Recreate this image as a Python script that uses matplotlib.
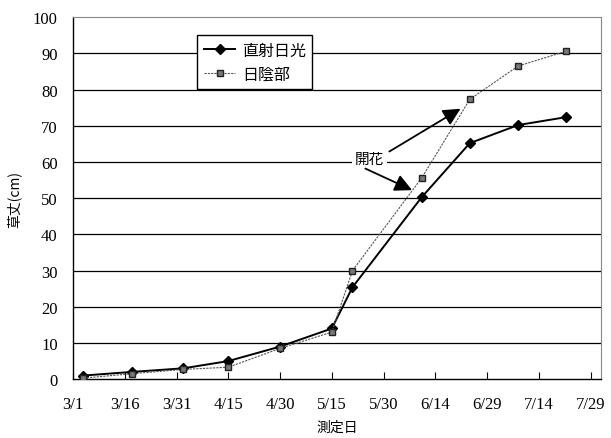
import matplotlib.pyplot as plt
import matplotlib.dates as mdates
import pandas as pd

plt.rcParams['font.family'] = ['Liberation Serif', 'Noto Sans CJK JP']

# measurement dates and plant height (cm)
dates = ['2003-03-04', '2003-03-18', '2003-04-02', '2003-04-15', '2003-04-30', '2003-05-15',
         '2003-05-21', '2003-06-10', '2003-06-24', '2003-07-08', '2003-07-22']
sun = [1.0, 2.0, 3.0, 5.0, 9.0, 14.0, 25.4, 50.2, 65.2, 70.2, 72.4]
shade = [0.3, 1.5, 2.7, 3.3, 8.5, 13.0, 30.0, 55.5, 77.3, 86.5, 90.6]
tick_dates = ['2003-03-01', '2003-03-16', '2003-03-31', '2003-04-15', '2003-04-30', '2003-05-15',
              '2003-05-30', '2003-06-14', '2003-06-29', '2003-07-14', '2003-07-29']

x = pd.to_datetime(dates)
ticks = pd.to_datetime(tick_dates)

fig = plt.figure(figsize=(6.11, 4.39), dpi=100)
ax = fig.add_axes([0.1195, 0.134, 0.864, 0.8246])

for v in range(10, 100, 10):
    ax.axhline(v, color='black', lw=0.9, zorder=0)

ax.plot(x, sun, color='black', lw=1.4, marker='D', ms=5, label='直射日光', zorder=3)
ax.plot(x, shade, color='#555555', lw=0.8, ls=(0, (2, 1)), marker='s', ms=4.5,
        mfc='#777777', mec='#222222', label='日陰部', zorder=3)

# flowering annotation
jp = ['Noto Sans CJK JP']
t = ax.text(pd.Timestamp('2003-05-26'), 60.8, '開花', ha='center', va='center', fontsize=10.5,
            family=jp, bbox=dict(facecolor='white', edgecolor='none', pad=2), zorder=4)
ax.annotate('', xy=(pd.Timestamp('2003-06-22'), 75.1), xytext=(pd.Timestamp('2003-05-31'), 62.5),
            arrowprops=dict(arrowstyle='-|>', color='black', lw=1.3, mutation_scale=26), zorder=4)
ax.annotate('', xy=(pd.Timestamp('2003-06-08'), 51.9), xytext=(pd.Timestamp('2003-05-24'), 58.5),
            arrowprops=dict(arrowstyle='-|>', color='black', lw=1.3, mutation_scale=26), zorder=4)

ax.set_xlim(pd.Timestamp('2003-03-01'), pd.Timestamp('2003-08-01'))
ax.set_ylim(0, 100)
ax.set_xticks(ticks)
ax.xaxis.set_major_formatter(mdates.DateFormatter('%-m/%-d'))
ax.set_yticks(range(0, 101, 10))
ax.tick_params(axis='x', direction='in', length=5, pad=12, labelsize=12)
ax.tick_params(axis='y', length=0, pad=11, labelsize=12)

for s in ['top', 'right']:
    ax.spines[s].set_color('#888888')
for s in ['left', 'bottom']:
    ax.spines[s].set_color('black')
    ax.spines[s].set_linewidth(1.0)

ax.set_ylabel('草丈(cm)', family=jp, fontsize=10, labelpad=8)
ax.set_xlabel('測定日', family=jp, fontsize=10, labelpad=6)

leg = ax.legend(loc='upper left', bbox_to_anchor=(0.22, 0.972), prop={'family': jp, 'size': 11.5},
                frameon=True, fancybox=False, edgecolor='black', framealpha=1,
                handlelength=2.0, borderpad=0.4, labelspacing=0.45, handletextpad=0.4)
leg.get_frame().set_linewidth(1.0)

fig.savefig('out.png', dpi=100)
